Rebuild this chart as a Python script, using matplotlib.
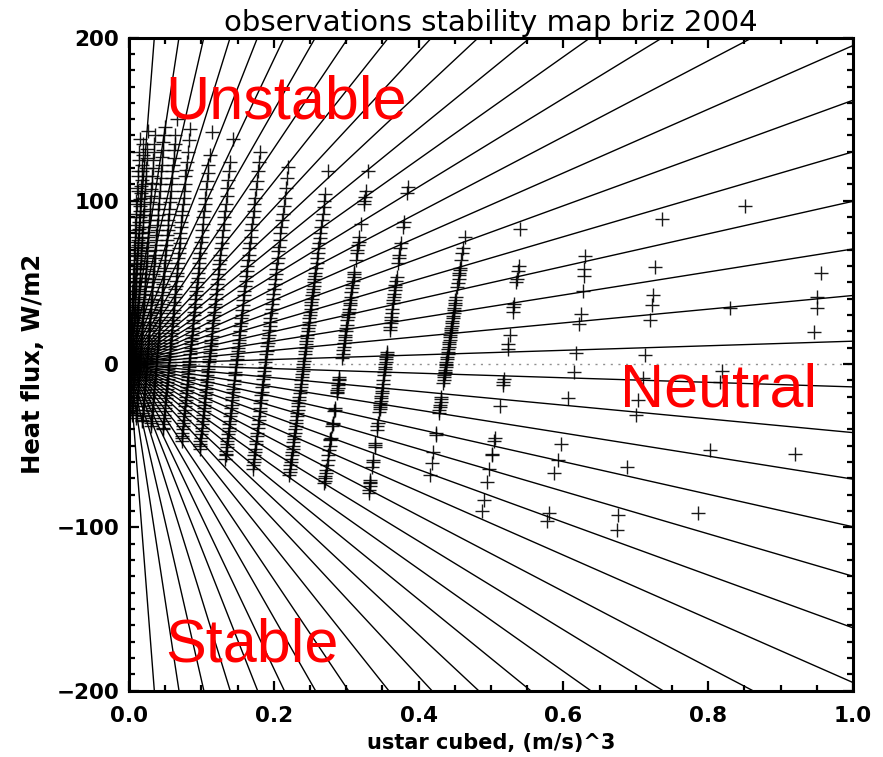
import matplotlib
matplotlib.use("Agg")
import matplotlib.pyplot as plt
from matplotlib.ticker import MultipleLocator, FormatStrFormatter

# stability reference lines, slope of heat flux vs ustar^3 (W/m2 per (m/s)^3)
line_slopes = [14, 42, 70.5, 99.7, 130, 161.6, 195.1, 232.2, 271.3, 313.7, 360.6,
               414.3, 478.2, 557.7, 660, 776.7, 932.6, 1126.3, 1431.5, 1934.6, 2898, 5720]

# observations, grouped by ustar bin (x = ustar cubed, y = heat flux)
ustar3_p0 = [-0.0025, -0.0021, -0.0017, -0.0013, -0.0009, -0.0005, -0.0001, 0.0003, 0.0007, 0.0011,
             0.0015, 0.0019, 0.0023, 0.0027, 0.0031, 0.0035, 0.0039, 0.0043, 0.0048, 0.0053, 0.0058,
             0.0063, 0.0069, 0.0075, 0.0081, 0.0088, 0.0095, 0.0103, 0.0111, 0.0121, 0.0133]
heat_p0 = [-28, -24, -20, -16, -12, -8, -4, 0, 4, 8, 12, 16, 20, 24, 28, 32, 36, 40, 45, 50, 55,
           60, 66, 72, 78, 85, 92, 100, 108, 118, 130]

ustar3_p1 = [-0.0017, -0.0013, -0.0009, -0.0005, -0.0001, 0.0003, 0.0007, 0.0011, 0.0015, 0.0019,
             0.0023, 0.0027, 0.0031, 0.0035, 0.0039, 0.0043, 0.0048, 0.0053, 0.0058, 0.0063, 0.0069,
             0.0075, 0.0081, 0.0088, 0.0095, 0.0103, 0.0111, 0.0119, 0.0128, 0.0138, 0.0151]
heat_p1 = [-30, -26, -22, -18, -14, -10, -6, -2, 2, 6, 10, 14, 18, 22, 26, 30, 35, 40, 45, 50, 56,
           62, 68, 75, 82, 90, 98, 106, 115, 125, 138]

ustar3_p2 = [0.0001, 0.0005, 0.0009, 0.0014, 0.0019, 0.0024, 0.0029, 0.0033, 0.0038, 0.0043, 0.0048,
             0.0053, 0.0057, 0.0062, 0.0067, 0.0072, 0.0077, 0.0083, 0.0089, 0.0095, 0.0101, 0.0107,
             0.0114, 0.0121, 0.0128, 0.0137, 0.0145, 0.0153, 0.0163, 0.0173, 0.0183, 0.0199,
             0.0002, 0.0007, 0.0012, 0.0017, 0.0021, 0.0026, 0.0031, 0.0036, 0.0041, 0.0045, 0.0050,
             0.0055, 0.0060, 0.0065, 0.0069, 0.0074, 0.0079, 0.0085, 0.0091, 0.0097, 0.0103, 0.0110,
             0.0117, 0.0125, 0.0133, 0.0141, 0.0150, 0.0158, 0.0168, 0.0179, 0.0191]
heat_p2 = [-30, -27, -23, -19, -15, -11, -7, -3, 1, 5, 9, 13, 17, 21, 25, 29, 33, 38, 43, 48, 53, 58,
           64, 70, 76, 83, 90, 97, 105, 113, 122, 135,
           -29, -25, -21, -17, -13, -9, -5, -1, 3, 7, 11, 15, 19, 23, 27, 31, 35, 40, 45, 50, 55, 61,
           67, 73, 80, 87, 94, 101, 109, 118, 128]

ustar3_p3 = [0.0040, 0.0044, 0.0049, 0.0054, 0.0059, 0.0064, 0.0070, 0.0075, 0.0080, 0.0085, 0.0090,
             0.0096, 0.0101, 0.0106, 0.0111, 0.0116, 0.0122, 0.0127, 0.0133, 0.0140, 0.0146, 0.0153,
             0.0161, 0.0168, 0.0176, 0.0184, 0.0193, 0.0202, 0.0213, 0.0223, 0.0236, 0.0252, 0.0266,
             0.0041, 0.0046, 0.0051, 0.0057, 0.0062, 0.0067, 0.0072, 0.0077, 0.0083, 0.0088, 0.0093,
             0.0098, 0.0103, 0.0109, 0.0114, 0.0119, 0.0124, 0.0129, 0.0136, 0.0142, 0.0149, 0.0157,
             0.0165, 0.0172, 0.0180, 0.0189, 0.0198, 0.0207, 0.0218, 0.0230, 0.0244]
heat_p3 = [-31, -28, -24, -20, -16, -12, -8, -4, 0, 4, 8, 12, 16, 20, 24, 28, 32, 36, 41, 46, 51, 56,
           62, 68, 74, 80, 87, 94, 102, 110, 120, 132, 143,
           -30, -26, -22, -18, -14, -10, -6, -2, 2, 6, 10, 14, 18, 22, 26, 30, 34, 38, 43, 48, 53, 59,
           65, 71, 77, 84, 91, 98, 106, 115, 126]

ustar3_p4 = [0.0098, 0.0102, 0.0108, 0.0114, 0.0120, 0.0126, 0.0132, 0.0138, 0.0144, 0.0150, 0.0156,
             0.0162, 0.0168, 0.0174, 0.0180, 0.0186, 0.0192, 0.0198, 0.0204, 0.0212, 0.0219, 0.0227,
             0.0234, 0.0242, 0.0251, 0.0260, 0.0269, 0.0279, 0.0290, 0.0302, 0.0314, 0.0327, 0.0342, 0.0357,
             0.0101, 0.0105, 0.0111, 0.0117, 0.0123, 0.0129, 0.0135, 0.0141, 0.0147, 0.0153, 0.0159,
             0.0165, 0.0171, 0.0177, 0.0183, 0.0189, 0.0195, 0.0201, 0.0207, 0.0215, 0.0222, 0.0230,
             0.0237, 0.0246, 0.0255, 0.0264, 0.0273, 0.0284, 0.0296, 0.0308, 0.0320, 0.0335, 0.0350]
heat_p4 = [-33, -30, -26, -22, -18, -14, -10, -6, -2, 2, 6, 10, 14, 18, 22, 26, 30, 34, 38, 43, 48, 53,
           58, 63, 69, 75, 81, 88, 95, 103, 111, 120, 130, 140,
           -31, -28, -24, -20, -16, -12, -8, -4, 0, 4, 8, 12, 16, 20, 24, 28, 32, 36, 40, 45, 50, 55,
           60, 66, 72, 78, 84, 91, 99, 107, 115, 125, 135]

ustar3_p5 = [0.0185, 0.0190, 0.0196, 0.0203, 0.0210, 0.0217, 0.0224, 0.0230, 0.0237, 0.0244, 0.0251,
             0.0258, 0.0264, 0.0271, 0.0278, 0.0285, 0.0292, 0.0298, 0.0305, 0.0312, 0.0321, 0.0329,
             0.0338, 0.0346, 0.0355, 0.0363, 0.0373, 0.0383, 0.0394, 0.0406, 0.0417, 0.0431, 0.0445,
             0.0460, 0.0475, 0.0491,
             0.0186, 0.0193, 0.0200, 0.0207, 0.0213, 0.0220, 0.0227, 0.0234, 0.0241, 0.0247, 0.0254,
             0.0261, 0.0268, 0.0275, 0.0281, 0.0288, 0.0295, 0.0302, 0.0309, 0.0315, 0.0324, 0.0332,
             0.0341, 0.0349, 0.0358, 0.0368, 0.0378, 0.0389, 0.0399, 0.0411, 0.0424, 0.0438, 0.0451,
             0.0467, 0.0482]
heat_p5 = [-35, -32, -28, -24, -20, -16, -12, -8, -4, 0, 4, 8, 12, 16, 20, 24, 28, 32, 36, 40, 45, 50,
           55, 60, 65, 70, 76, 82, 88, 95, 102, 110, 118, 127, 136, 145,
           -34, -30, -26, -22, -18, -14, -10, -6, -2, 2, 6, 10, 14, 18, 22, 26, 30, 34, 38, 42, 47, 52,
           57, 62, 67, 73, 79, 85, 91, 98, 106, 114, 122, 131, 140]

ustar3_p6 = [0.0304, 0.0310, 0.0317, 0.0325, 0.0332, 0.0340, 0.0348, 0.0355, 0.0363, 0.0370, 0.0378,
             0.0386, 0.0393, 0.0401, 0.0408, 0.0416, 0.0424, 0.0431, 0.0439, 0.0446, 0.0456, 0.0465,
             0.0475, 0.0484, 0.0494, 0.0503, 0.0515, 0.0526, 0.0538, 0.0551, 0.0564, 0.0577, 0.0593,
             0.0608, 0.0625, 0.0642, 0.0661,
             0.0308, 0.0313, 0.0321, 0.0329, 0.0336, 0.0344, 0.0351, 0.0359, 0.0367, 0.0374, 0.0382,
             0.0389, 0.0397, 0.0405, 0.0412, 0.0420, 0.0427, 0.0435, 0.0443, 0.0450, 0.0460, 0.0469,
             0.0479, 0.0488, 0.0498, 0.0509, 0.0520, 0.0532, 0.0543, 0.0557, 0.0570, 0.0585, 0.0600,
             0.0615, 0.0633]
heat_p6 = [-38, -35, -31, -27, -23, -19, -15, -11, -7, -3, 1, 5, 9, 13, 17, 21, 25, 29, 33, 37, 42, 47,
           52, 57, 62, 67, 73, 79, 85, 92, 99, 106, 114, 122, 131, 140, 150,
           -36, -33, -29, -25, -21, -17, -13, -9, -5, -1, 3, 7, 11, 15, 19, 23, 27, 31, 35, 39, 44, 49,
           54, 59, 64, 70, 76, 82, 88, 95, 102, 110, 118, 126, 135]

ustar3_i = [0.0470, 0.0476, 0.0484, 0.0492, 0.0500, 0.0508, 0.0516, 0.0524, 0.0532, 0.0540, 0.0548,
            0.0556, 0.0564, 0.0572, 0.0580, 0.0588, 0.0596, 0.0604, 0.0612, 0.0622, 0.0632, 0.0642,
            0.0652, 0.0662, 0.0674, 0.0686, 0.0698, 0.0710, 0.0724, 0.0738, 0.0754, 0.0770, 0.0788,
            0.0810, 0.0838,
            0.0472, 0.0480, 0.0488, 0.0496, 0.0504, 0.0512, 0.0520, 0.0528, 0.0536, 0.0544, 0.0552,
            0.0560, 0.0568, 0.0576, 0.0584, 0.0592, 0.0600, 0.0608, 0.0616, 0.0626, 0.0636, 0.0646,
            0.0658, 0.0668, 0.0680, 0.0692, 0.0704, 0.0718, 0.0732, 0.0746, 0.0762, 0.0780, 0.0798,
            0.0824]
heat_i = [-40, -37, -33, -29, -25, -21, -17, -13, -9, -5, -1, 3, 7, 11, 15, 19, 23, 27, 31, 36, 41, 46,
          51, 56, 62, 68, 74, 80, 87, 94, 102, 110, 119, 130, 144,
          -39, -35, -31, -27, -23, -19, -15, -11, -7, -3, 1, 5, 9, 13, 17, 21, 25, 29, 33, 38, 43, 48,
          54, 59, 65, 71, 77, 84, 91, 98, 106, 115, 124, 137]

ustar3_h = [0.0727, 0.0733, 0.0742, 0.0751, 0.0760, 0.0768, 0.0777, 0.0786, 0.0795, 0.0804, 0.0812,
            0.0821, 0.0830, 0.0839, 0.0848, 0.0856, 0.0865, 0.0874, 0.0885, 0.0896, 0.0907, 0.0918,
            0.0929, 0.0940, 0.0953, 0.0966, 0.0980, 0.0995, 0.1010, 0.1028, 0.1046, 0.1065, 0.1087,
            0.1112, 0.1142,
            0.0731, 0.0738, 0.0746, 0.0755, 0.0764, 0.0773, 0.0782, 0.0790, 0.0799, 0.0808, 0.0817,
            0.0826, 0.0834, 0.0843, 0.0852, 0.0861, 0.0870, 0.0878, 0.0889, 0.0900, 0.0911, 0.0922,
            0.0933, 0.0947, 0.0960, 0.0973, 0.0986, 0.1002, 0.1019, 0.1037, 0.1054, 0.1076, 0.1098]
heat_h = [-47, -44, -40, -36, -32, -28, -24, -20, -16, -12, -8, -4, 0, 4, 8, 12, 16, 20, 25, 30, 35, 40,
          45, 50, 56, 62, 68, 75, 82, 90, 98, 107, 117, 128, 142,
          -45, -42, -38, -34, -30, -26, -22, -18, -14, -10, -6, -2, 2, 6, 10, 14, 18, 22, 27, 32, 37,
          42, 47, 53, 59, 65, 71, 78, 86, 94, 102, 112, 122]

ustar3_g = [0.0975, 0.0982, 0.0992, 0.1002, 0.1011, 0.1021, 0.1030, 0.1040, 0.1050, 0.1059, 0.1069,
            0.1078, 0.1088, 0.1098, 0.1107, 0.1117, 0.1126, 0.1136, 0.1148, 0.1160, 0.1172, 0.1184,
            0.1196, 0.1210, 0.1225, 0.1239, 0.1254, 0.1270, 0.1287, 0.1306, 0.1326, 0.1347, 0.1371,
            0.1398, 0.1431,
            0.0980, 0.0987, 0.0997, 0.1006, 0.1016, 0.1026, 0.1035, 0.1045, 0.1054, 0.1064, 0.1074,
            0.1083, 0.1093, 0.1102, 0.1112, 0.1122, 0.1131, 0.1141, 0.1153, 0.1165, 0.1177, 0.1189,
            0.1203, 0.1218, 0.1232, 0.1246, 0.1261, 0.1278, 0.1297, 0.1316, 0.1335, 0.1359, 0.1383]
heat_g = [-52, -49, -45, -41, -37, -33, -29, -25, -21, -17, -13, -9, -5, -1, 3, 7, 11, 15, 20, 25, 30,
          35, 40, 46, 52, 58, 64, 71, 78, 86, 94, 103, 113, 124, 138,
          -50, -47, -43, -39, -35, -31, -27, -23, -19, -15, -11, -7, -3, 1, 5, 9, 13, 17, 22, 27, 32,
          37, 43, 49, 55, 61, 67, 74, 82, 90, 98, 108, 118]

ustar3_f = [0.1332, 0.1340, 0.1350, 0.1360, 0.1370, 0.1381, 0.1391, 0.1404, 0.1416, 0.1429, 0.1442,
            0.1455, 0.1467, 0.1480, 0.1493, 0.1506, 0.1518, 0.1531, 0.1544, 0.1557, 0.1572, 0.1587,
            0.1602, 0.1618, 0.1633, 0.1651, 0.1669, 0.1689, 0.1710, 0.1730, 0.1753, 0.1781, 0.1812,
            0.1337, 0.1345, 0.1355, 0.1365, 0.1375, 0.1386, 0.1398, 0.1411, 0.1424, 0.1437, 0.1449,
            0.1462, 0.1475, 0.1488, 0.1500, 0.1513, 0.1526, 0.1539, 0.1551, 0.1564, 0.1579, 0.1595,
            0.1610, 0.1625, 0.1643, 0.1661, 0.1679, 0.1699, 0.1720, 0.1740, 0.1766, 0.1796]
heat_f = [-58, -55, -51, -47, -43, -39, -35, -30, -25, -20, -15, -10, -5, 0, 5, 10, 15, 20, 25, 30, 36,
          42, 48, 54, 60, 67, 74, 82, 90, 98, 107, 118, 130,
          -56, -53, -49, -45, -41, -37, -32, -27, -22, -17, -12, -7, -2, 3, 8, 13, 18, 23, 28, 33, 39,
          45, 51, 57, 64, 71, 78, 86, 94, 102, 112, 124]

ustar3_e = [0.1710, 0.1721, 0.1732, 0.1742, 0.1755, 0.1769, 0.1782, 0.1795, 0.1808, 0.1822, 0.1835,
            0.1848, 0.1861, 0.1875, 0.1888, 0.1901, 0.1914, 0.1928, 0.1941, 0.1954, 0.1970, 0.1986,
            0.2002, 0.2018, 0.2034, 0.2052, 0.2071, 0.2092, 0.2113, 0.2137, 0.2166, 0.2201,
            0.1716, 0.1726, 0.1737, 0.1750, 0.1763, 0.1777, 0.1790, 0.1803, 0.1816, 0.1830, 0.1843,
            0.1856, 0.1869, 0.1883, 0.1896, 0.1909, 0.1922, 0.1936, 0.1949, 0.1962, 0.1978, 0.1994,
            0.2010, 0.2026, 0.2044, 0.2063, 0.2081, 0.2103, 0.2124, 0.2150, 0.2182]
heat_e = [-64, -60, -56, -52, -47, -42, -37, -32, -27, -22, -17, -12, -7, -2, 3, 8, 13, 18, 23, 28, 34,
          40, 46, 52, 58, 65, 72, 80, 88, 97, 108, 121,
          -62, -58, -54, -49, -44, -39, -34, -29, -24, -19, -14, -9, -4, 1, 6, 11, 16, 21, 26, 31, 37,
          43, 49, 55, 62, 69, 76, 84, 92, 102, 114]

ustar3_a = [0.2213, 0.2224, 0.2236, 0.2248, 0.2259, 0.2271, 0.2282, 0.2294, 0.2306, 0.2317, 0.2329,
            0.2340, 0.2352, 0.2364, 0.2375, 0.2387, 0.2398, 0.2410, 0.2422, 0.2433, 0.2445, 0.2456,
            0.2468, 0.2480, 0.2491, 0.2503, 0.2514, 0.2526, 0.2538, 0.2549, 0.2561, 0.2572, 0.2590,
            0.2607, 0.2625, 0.2642, 0.2665, 0.2688, 0.2712, 0.2752,
            0.2219, 0.2230, 0.2242, 0.2253, 0.2265, 0.2277, 0.2288, 0.2300, 0.2311, 0.2323, 0.2335,
            0.2346, 0.2358, 0.2369, 0.2381, 0.2393, 0.2404, 0.2416, 0.2427, 0.2439, 0.2451, 0.2462,
            0.2474, 0.2485, 0.2497, 0.2509, 0.2520, 0.2532, 0.2543, 0.2555, 0.2567, 0.2581, 0.2599,
            0.2616, 0.2633, 0.2654, 0.2677, 0.2700]
heat_a = [-68, -64, -60, -56, -52, -48, -44, -40, -36, -32, -28, -24, -20, -16, -12, -8, -4, 0, 4, 8,
          12, 16, 20, 24, 28, 32, 36, 40, 44, 48, 52, 56, 62, 68, 74, 80, 88, 96, 104, 118,
          -66, -62, -58, -54, -50, -46, -42, -38, -34, -30, -26, -22, -18, -14, -10, -6, -2, 2, 6, 10,
          14, 18, 22, 26, 30, 34, 38, 42, 46, 50, 54, 59, 65, 71, 77, 84, 92, 100]

ustar3_b = [0.3308, 0.3269, 0.3258, 0.3250, 0.3244, 0.3205, 0.3180, 0.3170, 0.3164, 0.3154, 0.3148,
            0.3135, 0.3111, 0.3101, 0.3085, 0.3078, 0.3055, 0.3046, 0.3032, 0.3023, 0.3007, 0.2994,
            0.2988, 0.2978, 0.2971, 0.2958, 0.2941, 0.2905, 0.2899, 0.2888, 0.2879, 0.2872, 0.2844,
            0.2837, 0.2815, 0.2808, 0.2784, 0.2781, 0.2761, 0.2742, 0.2722, 0.2716, 0.2706, 0.2696,
            0.3106, 0.3093, 0.3071, 0.3061, 0.3050, 0.3039, 0.3028, 0.3016, 0.3000, 0.2983, 0.2964,
            0.2949, 0.2901, 0.2893, 0.2884, 0.2876, 0.2840, 0.2812, 0.2783, 0.2770, 0.2751, 0.2732,
            0.2711, 0.2701]
heat_b = [118, 106, 102.5, 100, 98, 86, 78, 75, 73, 70, 68, 64, 56.5, 53.5, 48.4, 46.4, 39.2, 36.1, 32,
          29, 24, 20, 18, 15, 12.7, 8.6, 3.5, -7.8, -9.8, -13, -16, -18, -27, -29, -36, -38, -45.5,
          -46.6, -52.7, -58.8, -65, -67, -70, -73,
          55, 51, 44, 41, 37.5, 34, 30.5, 27, 22, 16.5, 10.5, 6, -9, -11.5, -14.5, -17, -28, -37, -46,
          -50, -56, -62, -68.5, -71.5]

ustar3_c = [0.3854, 0.3844, 0.3792, 0.3783, 0.3755, 0.3746, 0.3734, 0.3728, 0.3720, 0.3695, 0.3680,
            0.3671, 0.3659, 0.3648, 0.3630, 0.3618, 0.3612, 0.3600, 0.3562, 0.3553, 0.3544, 0.3535,
            0.3526, 0.3512, 0.3497, 0.3488, 0.3479, 0.3470, 0.3464, 0.3455, 0.3435, 0.3423, 0.3399,
            0.3393, 0.3369, 0.3358, 0.3334, 0.3328, 0.3316, 0.3310,
            0.3688, 0.3676, 0.3665, 0.3653, 0.3639, 0.3624, 0.3605, 0.3557, 0.3549, 0.3540, 0.3531,
            0.3520, 0.3505, 0.3492, 0.3483, 0.3475, 0.3468, 0.3460, 0.3430, 0.3396, 0.3366, 0.3331,
            0.3322]
heat_c = [108.4, 104.7, 87, 83.9, 74.1, 71.1, 66.8, 64.9, 61.9, 53.5, 48.4, 45.3, 41.2, 37.2, 31, 27,
          24.9, 20.8, 7.5, 4.5, 1.4, -1.6, -4.7, -9.8, -14.9, -18, -21, -24.1, -26.2, -29.2, -36.3,
          -40.4, -48.6, -50.6, -58.8, -62.9, -71.1, -73.1, -77.2, -79.2,
          51, 47, 43, 39, 34, 29, 22.5, 6, 3, 0, -3, -7, -12, -16.5, -19.5, -22.5, -25, -27.5, -38,
          -49.5, -60, -72, -75]

ustar3_d = [0.4637, 0.4615, 0.4604, 0.4590, 0.4574, 0.4570, 0.4560, 0.4544, 0.4509, 0.4499, 0.4493,
            0.4483, 0.4473, 0.4463, 0.4453, 0.4445, 0.4434, 0.4425, 0.4414, 0.4404, 0.4394, 0.4384,
            0.4378, 0.4368, 0.4362, 0.4354, 0.4342, 0.4313, 0.4303, 0.4293, 0.4281, 0.4240, 0.4202,
            0.4180, 0.4156,
            0.4565, 0.4552, 0.4535, 0.4515, 0.4504, 0.4488, 0.4478, 0.4468, 0.4458, 0.4449, 0.4439,
            0.4430, 0.4420, 0.4410, 0.4400, 0.4390, 0.4381, 0.4373, 0.4365, 0.4357, 0.4347, 0.4309,
            0.4298, 0.4288, 0.4236]
heat_d = [77.8, 71.1, 68, 63.7, 58.8, 57.6, 54.5, 49.6, 39.2, 36.1, 34.3, 31.2, 28.2, 25.1, 22.1, 19.6,
          16.5, 13.5, 10.4, 7.4, 4.3, 1.2, -0.6, -3.7, -5.5, -8, -11.6, -20.2, -23.3, -26.3, -30, -42.3,
          -53.9, -60.6, -68,
          56, 52, 47, 41, 37.5, 32.8, 29.7, 26.6, 23.6, 21, 18, 15, 12, 9, 6, 3, 0.3, -2, -4.6, -7, -10,
          -21.5, -25, -28, -43.5]

ustar3_k = [0.540, 0.538, 0.537, 0.536, 0.535, 0.532, 0.531, 0.530, 0.526, 0.524, 0.523, 0.518, 0.517,
            0.516, 0.512, 0.505, 0.504, 0.502, 0.501, 0.497, 0.494, 0.490, 0.488]
heat_k = [82.6, 60, 57, 52, 50, 37, 35, 32, 18, 12, 9, -9, -11, -13, -26, -45, -47, -55, -56, -64,
          -72, -83, -90]

ustar3_l = [0.630, 0.628, 0.628, 0.627, 0.625, 0.622, 0.617, 0.614, 0.607, 0.597, 0.592, 0.587, 0.580,
            0.577]
heat_l = [66, 58, 54, 44.7, 30.6, 24.5, 7, -4.9, -20.8, -49, -59, -67, -91, -96]

ustar3_m = [0.736, 0.727, 0.724, 0.722, 0.720, 0.713, 0.710, 0.703, 0.700, 0.688, 0.675, 0.674]
heat_m = [88.8, 59.4, 42.3, 36.1, 26.9, 5.5, -8.6, -22, -31, -63, -92.5, -101.6]

ustar3_n = [0.851, 0.830, 0.819, 0.816, 0.802, 0.786]
heat_n = [97, 34.3, -4.3, -11, -52.7, -91]

ustar3_o = [0.956, 0.950, 0.950, 0.946, 0.920]
heat_o = [55.7, 41, 34.3, 19.6, -55]

groups = [(ustar3_p0, heat_p0), (ustar3_p1, heat_p1), (ustar3_p2, heat_p2), (ustar3_p3, heat_p3),
          (ustar3_p4, heat_p4), (ustar3_p5, heat_p5), (ustar3_p6, heat_p6), (ustar3_i, heat_i),
          (ustar3_h, heat_h), (ustar3_g, heat_g), (ustar3_f, heat_f), (ustar3_e, heat_e),
          (ustar3_a, heat_a), (ustar3_b, heat_b), (ustar3_c, heat_c), (ustar3_d, heat_d),
          (ustar3_k, heat_k), (ustar3_l, heat_l), (ustar3_m, heat_m), (ustar3_n, heat_n),
          (ustar3_o, heat_o)]

fig = plt.figure(figsize=(8.83, 7.57), dpi=100)
ax = fig.add_axes([0.1461, 0.0878, 0.8199, 0.8626])

for x, y in groups:
    ax.plot(x, y, '+', color='black', ms=10, mew=1.0, alpha=0.9, zorder=2)

for s in line_slopes:
    ax.axline((0, 0), slope=s, color='black', lw=1.0, zorder=3)
    ax.axline((0, 0), slope=-s, color='black', lw=1.0, zorder=3)

ax.axhline(0, color='#909090', lw=1.0, ls=(0, (1.5, 4)), zorder=1)

ax.set_xlim(0, 1)
ax.set_ylim(-200, 200)

ax.xaxis.set_major_locator(MultipleLocator(0.2))
ax.xaxis.set_minor_locator(MultipleLocator(0.05))
ax.xaxis.set_major_formatter(FormatStrFormatter('%.1f'))
ax.yaxis.set_major_locator(MultipleLocator(100))
ax.yaxis.set_minor_locator(MultipleLocator(10))

ax.tick_params(which='both', direction='in', top=True, right=True, width=1.6)
ax.tick_params(which='major', length=7.5)
ax.tick_params(which='minor', length=4)
ax.tick_params(axis='x', which='major', pad=11)
ax.tick_params(axis='y', which='major', pad=7)
for lab in ax.get_xticklabels() + ax.get_yticklabels():
    lab.set_fontsize(15.5)
    lab.set_fontweight('bold')
for sp in ax.spines.values():
    sp.set_linewidth(2.2)

ax.set_title('observations stability map briz 2004', fontsize=21, pad=5)
ax.set_xlabel('ustar cubed, (m/s)^3', fontsize=15, fontweight='bold', labelpad=5)
ax.set_ylabel('Heat flux, W/m2', fontsize=17.5, fontweight='bold', labelpad=8)

ax.text(0.05, 150.7, 'Unstable', color='red', fontsize=44, family='Liberation Sans', zorder=5)
ax.text(0.678, -26.3, 'Neutral', color='red', fontsize=44, family='Liberation Sans', zorder=5)
ax.text(0.05, -182.5, 'Stable', color='red', fontsize=44, family='Liberation Sans', zorder=5)

fig.savefig('out.png', dpi=100)
